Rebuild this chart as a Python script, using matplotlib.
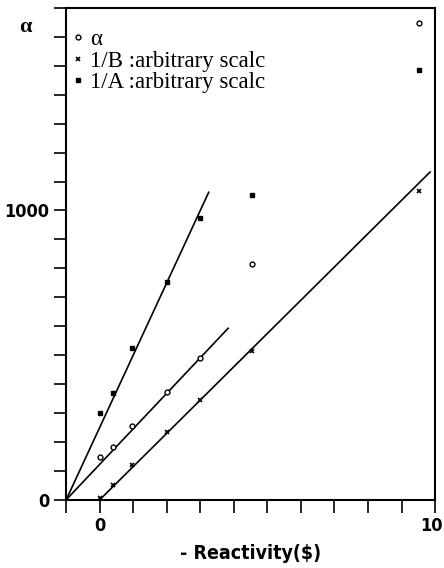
import matplotlib
matplotlib.use('Agg')
import matplotlib.pyplot as plt
import matplotlib.transforms as mtransforms
from matplotlib.ticker import FixedLocator

# measured points (- reactivity in $)
x_pts = [0.0, 0.4, 0.97, 2.0, 3.0, 4.54, 9.53]
alpha_y = [149, 184, 254, 373, 489, 815, 1647]
inv_B_y = [6, 50, 119, 236, 346, 516, 1067]
inv_A_y = [300, 368, 524, 752, 975, 1055, 1485]

# straight-line fits drawn in the figure
fit_A_x = [-1.0, 3.25]
fit_A_y = [0, 1063]
fit_alpha_x = [-1.0, 3.83]
fit_alpha_y = [0, 593]
fit_B_x = [0.0, 9.85]
fit_B_y = [0, 1133]

x_ticks = list(range(-1, 11))
x_labels = ['', '0', '', '', '', '', '', '', '', '', '', '10']
y_ticks = [i * 100 for i in range(18)]
y_labels = {0: '0', 1000: '1000'}

tick_font = dict(family='DejaVu Sans', stretch='condensed', weight='bold', size=13)

fig = plt.figure(figsize=(4.44, 5.68), dpi=100)
ax = fig.add_axes([0.149, 0.120, 0.831, 0.866])

ax.plot(fit_A_x, fit_A_y, color='black', lw=1.2)
ax.plot(fit_alpha_x, fit_alpha_y, color='black', lw=1.2)
ax.plot(fit_B_x, fit_B_y, color='black', lw=1.2)

ax.plot(x_pts, alpha_y, 'o', ms=3.5, mfc='white', mec='black', mew=1.0, label='α')
ax.plot(x_pts, inv_B_y, 'x', ms=3, color='black', mew=1.2, label='1/B :arbitrary scalc')
ax.plot(x_pts, inv_A_y, 's', ms=3.5, color='black', label='1/A :arbitrary scalc')

ax.set_xlim(-1, 10)
ax.set_ylim(0, 1700)

ax.xaxis.set_major_locator(FixedLocator(x_ticks))
ax.set_xticklabels(x_labels, fontdict=tick_font)
ax.set_yticks(y_ticks)
ax.set_yticklabels([y_labels.get(v, '') for v in y_ticks], fontdict=tick_font)
ax.tick_params(direction='out', length=9, width=1.2, pad=3)

# keep the "10" label inside the figure edge
last = ax.get_xticklabels()[-1]
last.set_transform(last.get_transform() +
                   mtransforms.ScaledTranslation(-4 / 100, 0, fig.dpi_scale_trans))

for s in ax.spines.values():
    s.set_linewidth(1.5)

ax.set_xlabel('- Reactivity($)', family='DejaVu Sans', stretch='condensed',
              weight='bold', size=14, labelpad=7)
ax.set_ylabel('α', family='Liberation Serif', weight='bold', size=16,
              rotation=0, va='center')
ax.yaxis.set_label_coords(-0.11, 0.961)

ax.legend(loc='upper left', bbox_to_anchor=(-0.02, 0.985), frameon=False,
          prop=dict(family='Liberation Serif', size=16.5), handlelength=0.5,
          handletextpad=0.25, labelspacing=0.02, borderaxespad=0.2)

fig.savefig('out.png', dpi=100)
